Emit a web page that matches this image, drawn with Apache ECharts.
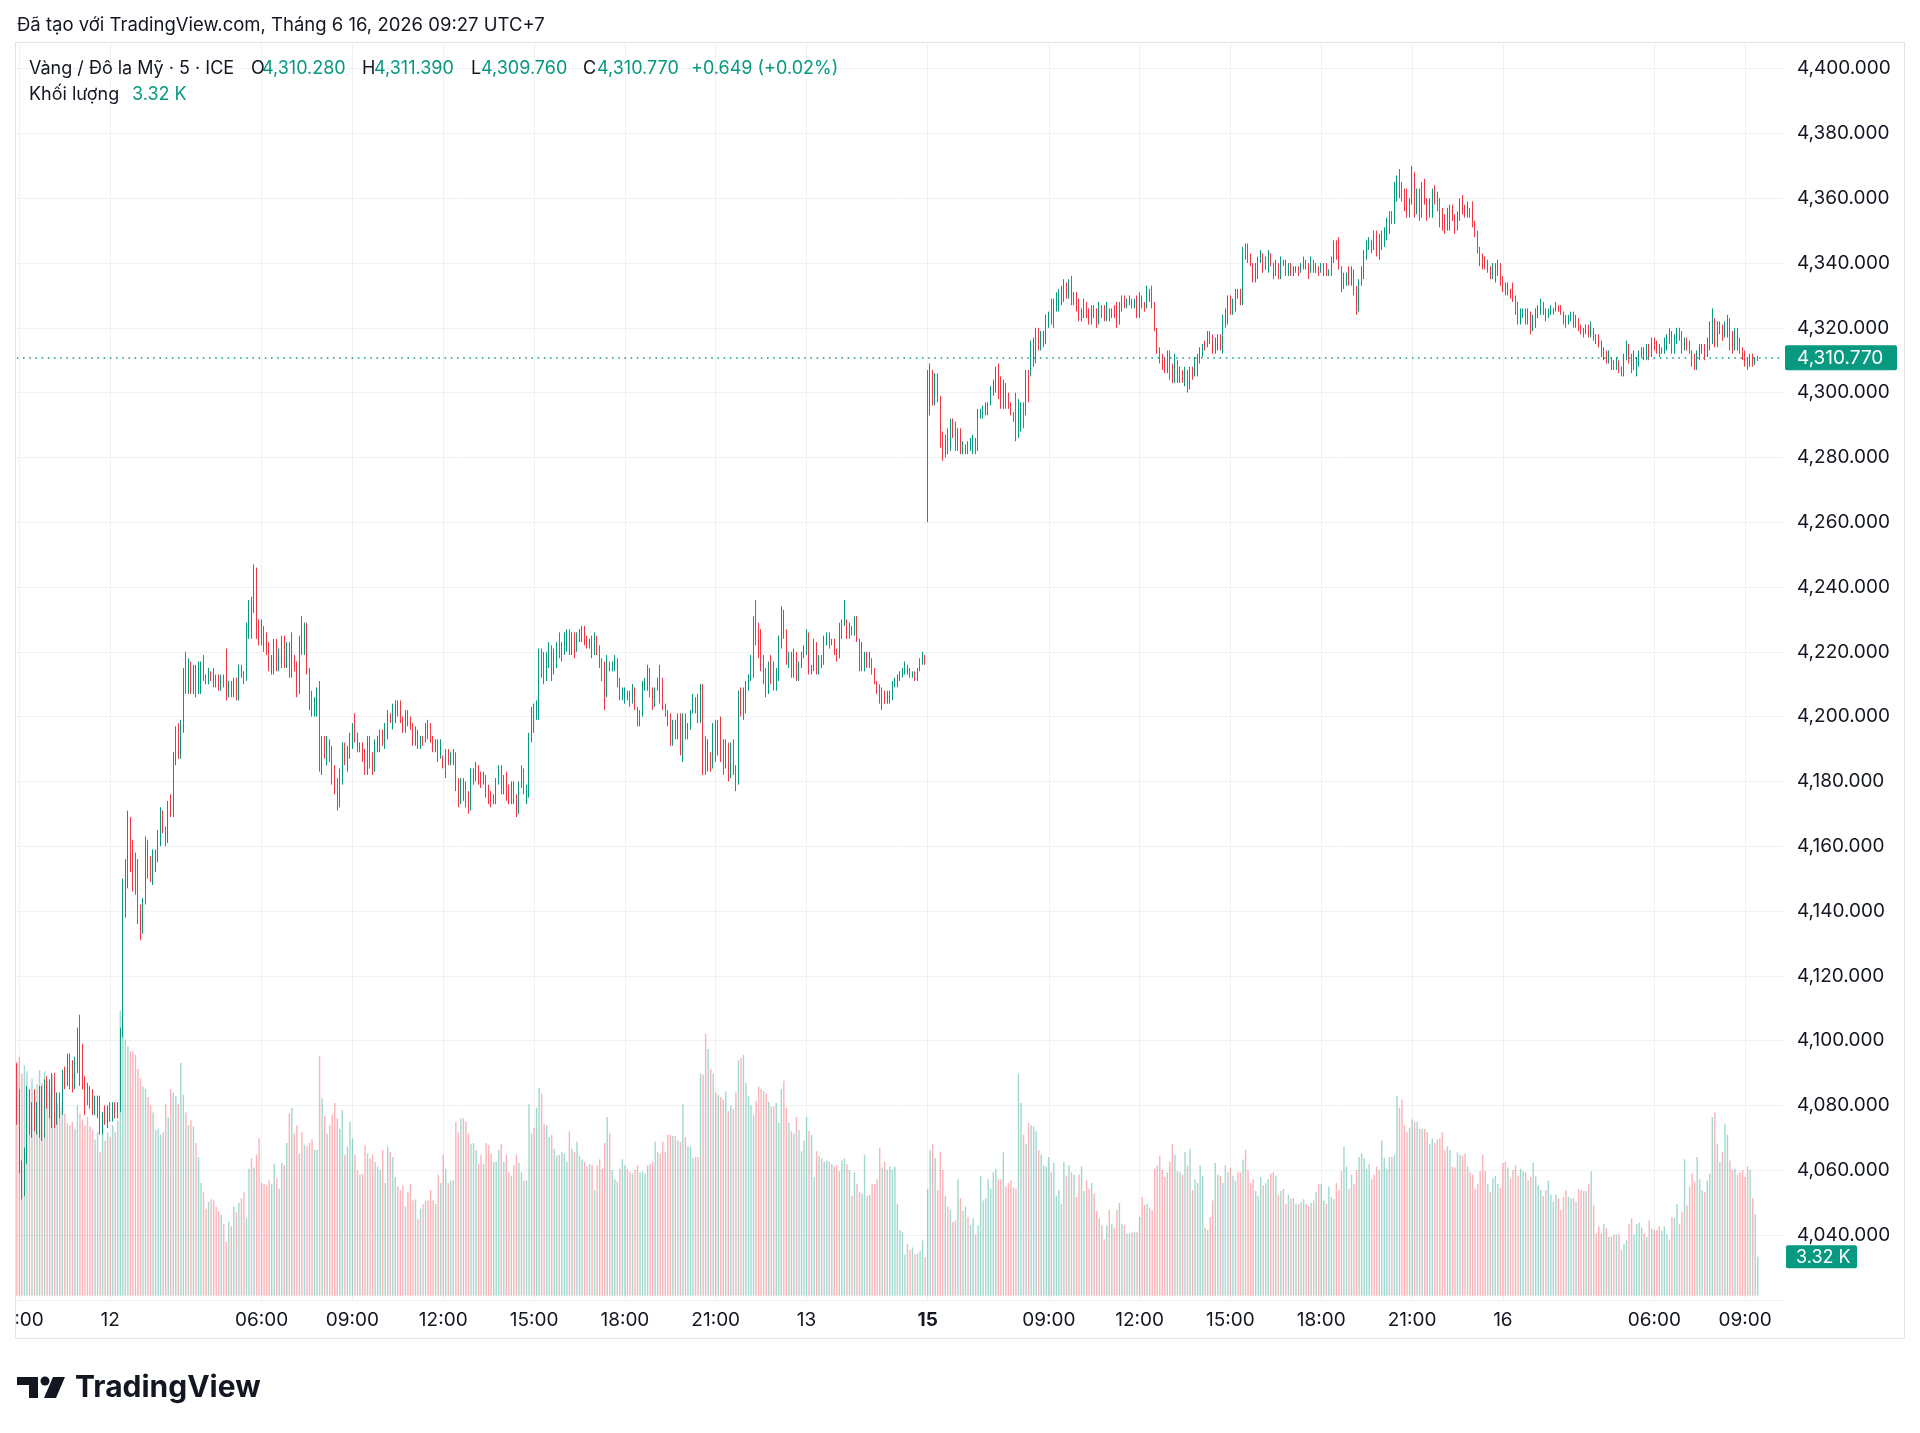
<!DOCTYPE html>
<html><head><meta charset="utf-8">
<script src="https://cdn.jsdelivr.net/npm/echarts@6/dist/echarts.min.js"></script>
<style>html,body{margin:0;padding:0;background:#fff}#c{width:1920px;height:1433px}</style>
</head><body><div id="c"></div>
<script>
// ---- DATA (5-minute bars) ----
// each candle: [open, high, low, close]
const ohlc = [
[4091,4093,4074,4075],[4075,4085,4059,4061],[4061,4063,4051,4053],[4053,4067,4052,4066],[4066,4086,4062,4084],[4084,4085,4071,4073],[4073,4081,4070,4080],[4080,4085,4072,4073],[4073,4081,4071,4078],[4078,4086,4070,4085],
[4085,4086,4069,4071],[4071,4088,4070,4087],[4087,4089,4079,4082],[4082,4088,4076,4078],[4078,4090,4073,4089],[4089,4090,4073,4075],[4075,4084,4074,4080],[4080,4084,4076,4078],[4078,4091,4077,4090],[4090,4092,4085,4087],
[4087,4096,4086,4095],[4095,4096,4085,4087],[4087,4094,4084,4086],[4086,4095,4085,4094],[4094,4104,4090,4103],[4103,4108,4086,4088],[4088,4099,4085,4087],[4087,4089,4077,4086],[4086,4087,4080,4081],[4081,4086,4079,4080],
[4080,4085,4077,4078],[4078,4083,4077,4081],[4081,4083,4076,4082],[4082,4083,4071,4073],[4073,4078,4071,4077],[4077,4080,4074,4075],[4075,4080,4073,4079],[4079,4081,4075,4076],[4076,4081,4075,4080],[4080,4081,4076,4077],
[4077,4081,4076,4079],[4079,4104,4078,4102],[4102,4150,4101,4148],[4148,4156,4138,4154],[4154,4171,4147,4168],[4168,4169,4152,4154],[4154,4162,4146,4148],[4148,4158,4145,4147],[4147,4156,4136,4138],[4138,4142,4131,4134],
[4134,4144,4133,4143],[4143,4163,4142,4161],[4161,4162,4150,4152],[4152,4157,4149,4150],[4150,4159,4148,4157],[4157,4159,4152,4158],[4158,4165,4155,4164],[4164,4172,4160,4170],[4170,4171,4164,4165],[4165,4166,4160,4162],
[4162,4174,4161,4173],[4173,4176,4169,4170],[4170,4189,4169,4187],[4187,4197,4185,4195],[4195,4198,4187,4188],[4188,4199,4187,4197],[4197,4215,4195,4213],[4213,4220,4207,4209],[4209,4218,4207,4216],[4216,4217,4207,4210],
[4210,4216,4207,4214],[4214,4216,4206,4208],[4208,4217,4207,4209],[4209,4217,4207,4215],[4215,4219,4211,4212],[4212,4213,4210,4211],[4211,4215,4210,4213],[4213,4214,4211,4212],[4212,4215,4209,4211],[4211,4213,4209,4210],
[4210,4213,4208,4209],[4209,4213,4208,4212],[4212,4213,4209,4211],[4211,4221,4205,4207],[4207,4211,4206,4210],[4210,4211,4206,4208],[4208,4212,4206,4211],[4211,4212,4205,4206],[4206,4216,4205,4215],[4215,4216,4212,4213],
[4213,4214,4210,4212],[4212,4229,4211,4227],[4227,4236,4224,4235],[4235,4237,4224,4233],[4233,4247,4232,4245],[4245,4246,4224,4226],[4226,4230,4222,4224],[4224,4230,4222,4223],[4223,4228,4220,4221],[4221,4226,4219,4220],
[4220,4223,4214,4215],[4215,4219,4213,4218],[4218,4224,4213,4223],[4223,4224,4214,4216],[4216,4221,4214,4220],[4220,4225,4215,4224],[4224,4225,4215,4216],[4216,4223,4215,4222],[4222,4223,4212,4213],[4213,4226,4212,4218],
[4218,4219,4214,4215],[4215,4217,4206,4207],[4207,4225,4207,4224],[4224,4231,4219,4221],[4221,4229,4219,4228],[4228,4229,4213,4214],[4214,4215,4202,4203],[4203,4208,4200,4201],[4201,4206,4200,4202],[4202,4209,4200,4208],
[4208,4211,4183,4184],[4184,4194,4182,4193],[4193,4194,4187,4188],[4188,4194,4185,4193],[4193,4193,4186,4190],[4190,4191,4179,4180],[4180,4185,4176,4178],[4178,4181,4171,4173],[4173,4184,4172,4183],[4183,4192,4179,4191],
[4191,4192,4185,4186],[4186,4191,4183,4190],[4190,4195,4187,4194],[4194,4198,4190,4197],[4197,4201,4192,4193],[4193,4195,4189,4190],[4190,4192,4189,4191],[4191,4192,4186,4187],[4187,4190,4182,4183],[4183,4194,4182,4193],
[4193,4194,4184,4185],[4185,4189,4182,4183],[4183,4193,4183,4192],[4192,4194,4189,4193],[4193,4196,4189,4195],[4195,4196,4191,4194],[4194,4198,4190,4197],[4197,4202,4193,4201],[4201,4201,4198,4199],[4199,4204,4196,4203],
[4203,4205,4198,4204],[4204,4205,4200,4201],[4201,4205,4198,4199],[4199,4200,4195,4196],[4196,4202,4195,4201],[4201,4202,4197,4198],[4198,4200,4196,4197],[4197,4198,4191,4192],[4192,4197,4191,4193],[4193,4196,4190,4191],
[4191,4194,4190,4193],[4193,4194,4191,4192],[4192,4198,4192,4197],[4197,4199,4193,4194],[4194,4198,4192,4193],[4193,4194,4189,4190],[4190,4193,4189,4192],[4192,4193,4186,4187],[4187,4193,4187,4188],[4188,4188,4184,4185],
[4185,4190,4181,4189],[4189,4190,4185,4186],[4186,4189,4185,4188],[4188,4190,4185,4189],[4189,4189,4177,4178],[4178,4181,4172,4173],[4173,4181,4173,4180],[4180,4181,4174,4175],[4175,4180,4172,4174],[4174,4177,4170,4171],
[4171,4184,4171,4183],[4183,4184,4179,4184],[4184,4186,4180,4185],[4185,4185,4179,4180],[4180,4183,4178,4179],[4179,4183,4179,4182],[4182,4182,4175,4176],[4176,4179,4173,4174],[4174,4177,4172,4173],[4173,4176,4173,4174],
[4174,4181,4173,4180],[4180,4185,4179,4184],[4184,4185,4176,4177],[4177,4182,4176,4181],[4181,4183,4174,4175],[4175,4179,4173,4174],[4174,4180,4173,4179],[4179,4180,4173,4174],[4174,4176,4169,4171],[4171,4180,4170,4179],
[4179,4185,4178,4183],[4183,4184,4176,4177],[4177,4179,4173,4178],[4178,4195,4175,4194],[4194,4203,4192,4202],[4202,4204,4195,4200],[4200,4205,4199,4204],[4204,4221,4199,4219],[4219,4221,4212,4213],[4213,4220,4210,4212],
[4212,4220,4211,4219],[4219,4223,4215,4222],[4222,4222,4211,4213],[4213,4221,4213,4220],[4220,4223,4215,4222],[4222,4226,4218,4219],[4219,4223,4217,4222],[4222,4226,4219,4225],[4225,4227,4220,4226],[4226,4227,4219,4220],
[4220,4226,4219,4221],[4221,4226,4218,4220],[4220,4226,4220,4225],[4225,4227,4223,4227],[4227,4228,4223,4228],[4228,4228,4222,4224],[4224,4225,4221,4222],[4222,4224,4221,4223],[4223,4225,4218,4219],[4219,4226,4219,4225],
[4225,4225,4219,4220],[4220,4222,4215,4216],[4216,4218,4211,4212],[4212,4217,4202,4206],[4206,4219,4206,4217],[4217,4217,4214,4215],[4215,4217,4214,4216],[4216,4219,4214,4218],[4218,4218,4209,4210],[4210,4212,4205,4206],
[4206,4209,4205,4207],[4207,4209,4204,4208],[4208,4208,4205,4206],[4206,4208,4203,4204],[4204,4210,4204,4209],[4209,4209,4202,4203],[4203,4203,4197,4198],[4198,4202,4197,4201],[4201,4211,4200,4210],[4210,4212,4208,4211],
[4211,4216,4208,4215],[4215,4215,4206,4207],[4207,4209,4202,4203],[4203,4209,4203,4208],[4208,4212,4208,4211],[4211,4216,4204,4205],[4205,4212,4202,4203],[4203,4204,4200,4201],[4201,4202,4197,4198],[4198,4201,4191,4193],
[4193,4199,4191,4198],[4198,4199,4193,4194],[4194,4201,4193,4200],[4200,4201,4188,4189],[4189,4201,4186,4200],[4200,4201,4193,4194],[4194,4198,4193,4197],[4197,4202,4196,4201],[4201,4207,4201,4206],[4206,4206,4201,4202],
[4202,4207,4198,4199],[4199,4210,4198,4209],[4209,4210,4182,4184],[4184,4194,4182,4183],[4183,4193,4183,4186],[4186,4189,4183,4184],[4184,4198,4184,4197],[4197,4199,4186,4189],[4189,4199,4188,4198],[4198,4200,4186,4187],
[4187,4193,4182,4184],[4184,4193,4184,4192],[4192,4192,4180,4181],[4181,4192,4181,4190],[4190,4193,4182,4183],[4183,4185,4177,4179],[4179,4208,4179,4206],[4206,4209,4200,4201],[4201,4209,4199,4202],[4202,4211,4201,4210],
[4210,4213,4208,4212],[4212,4219,4211,4218],[4218,4231,4212,4229],[4229,4236,4222,4224],[4224,4229,4218,4219],[4219,4227,4214,4216],[4216,4219,4210,4211],[4211,4215,4206,4208],[4208,4217,4207,4216],[4216,4219,4210,4212],
[4212,4217,4208,4209],[4209,4215,4208,4214],[4214,4225,4211,4224],[4224,4234,4221,4232],[4232,4233,4224,4226],[4226,4227,4216,4217],[4217,4220,4215,4219],[4219,4220,4212,4213],[4213,4221,4212,4220],[4220,4220,4211,4212],
[4212,4217,4211,4216],[4216,4220,4215,4219],[4219,4222,4218,4221],[4221,4227,4219,4226],[4226,4226,4213,4214],[4214,4216,4213,4215],[4215,4224,4214,4223],[4223,4223,4213,4214],[4214,4219,4213,4218],[4218,4219,4215,4217],
[4217,4225,4216,4224],[4224,4226,4222,4225],[4225,4226,4221,4223],[4223,4224,4222,4223],[4223,4224,4219,4220],[4220,4221,4217,4218],[4218,4229,4218,4228],[4228,4230,4224,4229],[4229,4236,4228,4229],[4229,4230,4224,4225],
[4225,4229,4224,4228],[4228,4228,4225,4226],[4226,4231,4225,4230],[4230,4231,4223,4224],[4224,4224,4214,4215],[4215,4223,4214,4216],[4216,4220,4214,4219],[4219,4220,4215,4216],[4216,4220,4215,4216],[4216,4218,4213,4214],
[4214,4215,4210,4211],[4211,4211,4207,4208],[4208,4210,4204,4205],[4205,4209,4202,4208],[4208,4208,4204,4205],[4205,4208,4204,4206],[4206,4208,4204,4207],[4207,4211,4205,4210],[4210,4212,4209,4211],[4211,4213,4209,4212],
[4212,4214,4211,4213],[4213,4215,4212,4214],[4214,4217,4213,4216],[4216,4216,4213,4214],[4214,4215,4212,4213],[4213,4214,4212,4213],[4213,4214,4211,4212],[4212,4215,4211,4215],[4215,4218,4214,4217],[4217,4220,4216,4219],
[4219,4219,4216,4218],[4262,4307,4260,4300],[4300,4309,4293,4307],[4307,4307,4296,4297],[4297,4306,4296,4305],[4305,4306,4297,4298],[4298,4299,4283,4284],[4284,4288,4279,4281],[4281,4287,4280,4286],[4286,4289,4281,4282],
[4282,4292,4282,4291],[4291,4292,4286,4287],[4287,4291,4282,4283],[4283,4289,4282,4288],[4288,4289,4281,4282],[4282,4285,4281,4283],[4283,4284,4281,4284],[4284,4285,4281,4282],[4282,4286,4282,4285],[4285,4287,4281,4286],
[4286,4286,4281,4282],[4282,4295,4282,4294],[4294,4295,4292,4294],[4294,4296,4292,4295],[4295,4297,4293,4296],[4296,4297,4293,4297],[4297,4302,4296,4301],[4301,4304,4299,4303],[4303,4308,4300,4307],[4307,4309,4298,4299],
[4299,4305,4295,4296],[4296,4304,4295,4303],[4303,4303,4295,4297],[4297,4300,4295,4296],[4296,4297,4293,4294],[4294,4294,4291,4292],[4292,4300,4285,4287],[4287,4298,4286,4289],[4289,4297,4288,4296],[4296,4297,4289,4295],
[4295,4307,4293,4306],[4306,4307,4297,4305],[4305,4316,4305,4315],[4315,4317,4308,4316],[4316,4320,4309,4319],[4319,4320,4313,4314],[4314,4319,4313,4315],[4315,4319,4314,4318],[4318,4324,4315,4323],[4323,4325,4320,4324],
[4324,4329,4321,4322],[4322,4329,4320,4328],[4328,4331,4325,4330],[4330,4332,4325,4331],[4331,4333,4327,4332],[4332,4335,4328,4334],[4334,4334,4329,4330],[4330,4335,4329,4334],[4334,4336,4327,4328],[4328,4331,4327,4329],
[4329,4331,4325,4326],[4326,4329,4322,4323],[4323,4326,4322,4324],[4324,4329,4323,4328],[4328,4328,4323,4324],[4324,4326,4321,4322],[4322,4327,4321,4326],[4326,4327,4323,4324],[4324,4326,4320,4321],[4321,4328,4321,4327],
[4327,4327,4323,4324],[4324,4327,4322,4323],[4323,4328,4322,4325],[4325,4326,4322,4323],[4323,4326,4323,4326],[4326,4327,4323,4324],[4324,4328,4320,4321],[4321,4328,4321,4327],[4327,4330,4325,4329],[4329,4330,4326,4327],
[4327,4329,4326,4328],[4328,4330,4327,4329],[4329,4329,4326,4327],[4327,4329,4326,4328],[4328,4330,4323,4324],[4324,4331,4323,4330],[4330,4330,4326,4327],[4327,4328,4325,4326],[4326,4333,4326,4332],[4332,4332,4328,4331],
[4331,4333,4326,4327],[4327,4328,4319,4320],[4320,4320,4312,4313],[4313,4314,4309,4311],[4311,4312,4307,4308],[4308,4311,4306,4307],[4307,4313,4306,4312],[4312,4313,4304,4305],[4305,4309,4303,4304],[4304,4312,4303,4310],
[4310,4310,4303,4304],[4304,4308,4303,4307],[4307,4307,4303,4304],[4304,4308,4302,4307],[4307,4307,4300,4302],[4302,4308,4301,4307],[4307,4308,4304,4305],[4305,4311,4305,4310],[4310,4312,4305,4311],[4311,4314,4309,4313],
[4313,4315,4311,4315],[4315,4316,4313,4314],[4314,4319,4314,4318],[4318,4319,4315,4317],[4317,4318,4312,4313],[4313,4317,4312,4314],[4314,4318,4313,4317],[4317,4318,4313,4314],[4314,4324,4312,4323],[4323,4326,4320,4325],
[4325,4330,4321,4329],[4329,4330,4324,4325],[4325,4329,4324,4326],[4326,4332,4325,4331],[4331,4332,4329,4330],[4330,4332,4327,4328],[4328,4345,4327,4344],[4344,4346,4341,4342],[4342,4346,4340,4341],[4341,4343,4339,4340],
[4340,4340,4334,4335],[4335,4340,4334,4339],[4339,4342,4335,4341],[4341,4344,4340,4343],[4343,4343,4337,4338],[4338,4342,4338,4341],[4341,4344,4337,4343],[4343,4343,4339,4340],[4340,4340,4335,4336],[4336,4341,4336,4340],
[4340,4340,4335,4336],[4336,4342,4335,4341],[4341,4341,4339,4340],[4340,4341,4336,4337],[4337,4340,4336,4339],[4339,4340,4336,4337],[4337,4339,4336,4338],[4338,4339,4337,4339],[4339,4339,4336,4337],[4337,4340,4337,4339],
[4339,4342,4338,4341],[4341,4341,4338,4339],[4339,4340,4335,4338],[4338,4342,4337,4341],[4341,4341,4337,4338],[4338,4340,4337,4339],[4339,4339,4336,4337],[4337,4340,4337,4339],[4339,4340,4336,4340],[4340,4340,4336,4337],
[4337,4338,4336,4337],[4337,4342,4336,4341],[4341,4347,4340,4346],[4346,4347,4341,4345],[4345,4348,4338,4339],[4339,4339,4331,4333],[4333,4337,4332,4334],[4334,4337,4333,4336],[4336,4339,4333,4334],[4334,4339,4333,4337],
[4337,4338,4330,4331],[4331,4333,4324,4326],[4326,4335,4325,4334],[4334,4339,4333,4338],[4338,4344,4335,4343],[4343,4347,4341,4346],[4346,4348,4344,4347],[4347,4347,4343,4346],[4346,4350,4344,4345],[4345,4350,4342,4343],
[4343,4349,4341,4348],[4348,4350,4344,4349],[4349,4351,4345,4350],[4350,4354,4347,4353],[4353,4356,4349,4355],[4355,4356,4352,4353],[4353,4365,4352,4364],[4364,4367,4359,4366],[4366,4369,4360,4361],[4361,4365,4359,4360],
[4360,4363,4356,4357],[4357,4363,4354,4355],[4355,4360,4354,4359],[4359,4370,4358,4368],[4368,4368,4354,4356],[4356,4363,4355,4362],[4362,4363,4353,4355],[4355,4365,4354,4364],[4364,4366,4358,4359],[4359,4360,4353,4354],
[4354,4360,4354,4355],[4355,4363,4354,4362],[4362,4364,4358,4359],[4359,4362,4356,4357],[4357,4360,4351,4352],[4352,4357,4350,4351],[4351,4355,4349,4350],[4350,4357,4350,4356],[4356,4358,4350,4357],[4357,4358,4353,4354],
[4354,4355,4349,4350],[4350,4356,4350,4355],[4355,4360,4353,4359],[4359,4361,4355,4356],[4356,4358,4354,4355],[4355,4359,4354,4356],[4356,4357,4354,4355],[4355,4359,4351,4352],[4352,4353,4348,4349],[4349,4350,4343,4344],
[4344,4345,4339,4340],[4340,4343,4338,4339],[4339,4342,4338,4338],[4338,4341,4337,4338],[4338,4339,4335,4336],[4336,4340,4335,4339],[4339,4340,4334,4340],[4340,4341,4336,4340],[4340,4340,4333,4334],[4334,4336,4331,4332],
[4332,4334,4330,4331],[4331,4334,4330,4331],[4331,4332,4329,4330],[4330,4334,4328,4329],[4329,4330,4324,4325],[4325,4328,4321,4322],[4322,4326,4321,4325],[4325,4326,4323,4325],[4325,4326,4321,4322],[4322,4326,4321,4325],
[4325,4325,4318,4319],[4319,4324,4319,4320],[4320,4326,4320,4325],[4325,4327,4323,4326],[4326,4329,4324,4328],[4328,4328,4324,4325],[4325,4326,4322,4323],[4323,4326,4323,4325],[4325,4327,4324,4325],[4325,4326,4324,4326],
[4326,4328,4325,4327],[4327,4327,4325,4326],[4326,4327,4324,4325],[4325,4325,4321,4322],[4322,4324,4320,4321],[4321,4324,4321,4323],[4323,4325,4322,4324],[4324,4325,4320,4321],[4321,4324,4320,4323],[4323,4323,4319,4320],
[4320,4321,4318,4319],[4319,4320,4317,4318],[4318,4321,4318,4320],[4320,4321,4317,4318],[4318,4322,4317,4319],[4319,4320,4316,4317],[4317,4318,4315,4316],[4316,4318,4314,4315],[4315,4316,4311,4312],[4312,4314,4310,4313],
[4313,4313,4309,4310],[4310,4313,4309,4310],[4310,4311,4307,4308],[4308,4310,4307,4307],[4307,4311,4307,4310],[4310,4310,4306,4307],[4307,4308,4305,4306],[4306,4312,4305,4311],[4311,4316,4310,4315],[4315,4315,4309,4310],
[4310,4312,4306,4307],[4307,4313,4307,4309],[4309,4311,4305,4310],[4310,4313,4308,4312],[4312,4314,4311,4313],[4313,4314,4310,4311],[4311,4315,4310,4314],[4314,4315,4310,4311],[4311,4317,4311,4316],[4316,4317,4313,4314],
[4314,4316,4312,4313],[4313,4315,4311,4312],[4312,4314,4312,4313],[4313,4317,4312,4316],[4316,4318,4313,4317],[4317,4320,4315,4316],[4316,4319,4312,4313],[4313,4318,4312,4317],[4317,4320,4315,4319],[4319,4320,4316,4317],
[4317,4319,4312,4313],[4313,4317,4313,4316],[4316,4317,4313,4314],[4314,4316,4312,4313],[4313,4313,4308,4309],[4309,4312,4307,4308],[4308,4313,4307,4312],[4312,4315,4310,4314],[4314,4315,4312,4315],[4315,4315,4310,4312],
[4312,4317,4311,4316],[4316,4322,4313,4321],[4321,4326,4315,4323],[4323,4323,4314,4315],[4315,4322,4314,4319],[4319,4322,4318,4321],[4321,4321,4316,4317],[4317,4322,4317,4321],[4321,4324,4317,4323],[4323,4323,4313,4314],
[4314,4319,4312,4313],[4313,4320,4313,4319],[4319,4320,4313,4314],[4314,4317,4312,4313],[4313,4314,4310,4311],[4311,4313,4308,4310],[4310,4311,4307,4308],[4308,4312,4308,4311],[4311,4312,4308,4309],[4309,4311,4308.5,4310.121],
[4310.28,4311.39,4309.76,4310.77]
];
// volume per bar, in thousands
const volumesK = [
19.9,20.3,18.9,19.6,19.1,17.5,18.5,17.2,18.0,19.2,18.1,19.1,18.3,17.5,18.8,15.6,16.4,16.0,
16.5,15.5,14.7,14.5,14.8,14.2,16.2,15.5,15.0,14.5,15.2,14.4,14.1,13.3,13.9,12.2,13.8,13.2,
13.9,13.5,14.5,13.9,14.9,24.3,23.2,21.8,21.2,20.8,20.8,20.5,19.3,18.5,17.8,17.6,16.9,16.2,
15.6,14.1,14.2,13.7,13.9,16.3,15.2,17.6,17.3,17.0,16.3,19.8,17.1,15.6,14.5,14.9,14.4,13.0,
11.8,9.6,8.8,7.4,8.0,8.2,8.1,7.6,7.2,6.9,6.1,4.6,6.3,5.9,7.6,7.1,7.9,8.3,
8.8,6.6,10.8,11.7,10.9,12.0,13.4,9.6,9.5,9.4,9.8,9.5,11.2,10.0,9.1,11.3,11.1,13.0,
15.5,16.0,13.8,14.5,12.1,13.9,12.8,12.7,13.0,13.3,12.4,12.4,20.4,16.8,15.3,13.8,14.5,15.4,
16.4,15.1,14.2,15.8,12.0,12.7,14.8,13.4,12.0,10.7,10.3,10.4,12.8,12.1,11.7,12.0,11.4,11.0,
10.7,12.4,9.6,12.7,12.2,11.8,10.1,9.3,9.0,9.4,7.6,8.8,9.5,8.1,8.2,6.5,7.4,7.8,
8.1,8.1,9.0,8.1,7.8,10.3,9.6,12.0,10.8,9.6,9.8,9.8,14.8,13.9,15.1,15.1,14.8,13.8,
12.9,13.0,12.4,11.2,12.0,11.2,13.0,12.8,12.1,11.4,11.4,12.4,12.9,11.4,12.0,10.5,10.2,11.1,
12.0,11.3,10.5,9.8,9.8,16.3,13.8,14.3,16.0,17.7,17.2,14.6,14.5,13.5,13.7,12.5,11.9,12.0,
12.2,12.1,11.4,14.0,12.5,12.2,13.1,11.9,11.6,11.4,11.0,11.2,11.1,9.0,11.1,11.6,10.8,13.0,
15.2,13.8,10.7,9.9,9.7,10.8,11.6,11.1,10.8,10.5,10.4,10.7,11.1,10.5,10.6,10.4,11.1,11.2,
11.4,13.1,12.2,12.1,13.1,12.2,13.7,13.7,13.6,13.6,13.2,13.1,16.3,13.5,12.7,12.7,11.7,11.8,
11.8,18.9,18.8,22.3,21.0,19.3,18.9,17.3,17.1,16.9,16.7,17.4,15.7,16.2,15.9,17.3,20.0,20.2,
20.5,18.1,17.0,16.2,15.4,16.6,17.8,17.6,17.4,17.2,16.5,16.1,16.1,16.4,14.7,17.6,18.3,16.0,
14.7,14.0,13.8,15.2,14.1,12.3,13.2,15.2,14.0,13.7,10.1,12.3,11.9,11.7,11.4,11.5,11.4,11.2,
11.0,11.1,10.6,11.5,11.7,11.2,10.7,8.5,10.5,9.5,8.8,8.7,12.0,8.5,8.6,9.5,9.5,9.9,12.6,10.9,11.4,10.7,11.0,
10.7,11.0,7.8,5.6,5.4,3.5,4.4,3.9,4.1,3.5,3.6,3.8,4.7,3.3,9.1,12.4,12.9,11.7,9.0,12.2,
10.7,8.5,7.6,7.3,6.3,6.4,9.9,8.3,7.2,7.6,6.7,6.0,6.6,5.2,6.0,10.2,8.1,8.3,9.9,9.1,
10.5,10.8,9.9,9.9,12.2,9.3,9.6,9.8,9.2,9.1,18.9,16.4,13.7,12.9,14.7,14.5,14.4,14.0,12.4,12.0,
11.1,11.0,11.8,10.5,11.3,8.5,9.0,7.8,11.4,10.2,11.1,10.5,10.3,8.4,10.3,11.0,8.9,9.8,9.1,9.6,
8.7,7.2,6.6,6.0,4.8,6.0,7.3,6.1,5.8,7.3,7.9,6.1,6.0,5.3,5.3,5.4,5.4,5.4,6.7,8.4,
7.7,7.8,7.5,7.3,10.8,11.1,11.9,10.7,10.1,10.5,11.4,12.9,12.0,10.6,10.5,10.3,12.2,11.1,12.5,9.0,
9.9,9.6,11.1,10.2,5.8,5.6,6.7,8.1,11.3,10.3,10.2,9.6,11.1,10.5,10.9,10.2,9.8,10.5,10.5,11.6,
12.4,10.7,9.6,9.9,8.9,8.5,10.1,9.4,9.6,9.9,10.4,10.5,10.2,8.6,8.9,9.1,7.8,8.6,8.3,8.3,
7.8,7.8,8.0,8.2,7.8,7.6,7.9,8.1,8.8,9.5,9.5,8.1,7.8,9.3,8.4,8.2,9.6,9.0,10.6,12.7,
11.0,9.1,10.3,9.5,10.7,11.8,12.1,11.7,10.8,11.2,9.9,10.3,11.0,10.7,13.2,11.7,10.8,11.8,11.8,12.0,
17.0,16.0,16.7,14.5,13.9,14.3,15.0,14.8,14.8,14.2,14.2,14.2,13.9,12.9,13.4,13.0,13.3,13.4,13.9,12.4,
12.7,12.4,11.0,10.9,12.2,12.0,11.9,12.1,11.0,10.5,10.3,9.1,9.5,10.6,12.0,10.6,9.5,8.8,10.0,10.2,
9.5,9.2,11.3,11.4,10.9,10.0,10.7,11.1,10.2,10.8,10.6,10.5,9.8,10.1,11.3,10.2,9.4,9.0,8.5,9.0,
9.8,8.6,8.0,8.6,8.3,7.3,8.4,9.0,8.4,8.3,8.3,8.0,9.1,9.0,8.9,8.9,9.5,10.6,7.7,5.3,
5.9,5.3,6.1,5.8,5.0,5.0,5.2,5.2,5.2,3.9,4.4,4.7,6.1,6.6,5.2,6.1,6.2,5.8,5.3,5.0,
6.4,5.7,5.6,5.6,5.9,5.5,5.9,5.2,4.8,6.7,6.6,7.8,6.1,7.1,11.6,7.7,9.3,10.4,9.7,11.8,
9.9,9.0,8.8,9.8,10.4,15.2,15.6,12.9,11.4,12.2,14.6,13.7,11.5,10.7,10.8,10.3,10.5,10.7,10.1,11.0,
10.7,8.3,6.9,3.32
];
// trading sessions (UTC+7) that make up the category axis; the last one includes 10 empty future slots
const sessions = [['2026-06-11T20:55','2026-06-12T03:55'],['2026-06-12T05:00','2026-06-13T03:55'],
                  ['2026-06-15T05:00','2026-06-16T03:55'],['2026-06-16T05:00','2026-06-16T10:15']];
// time-axis tick labels: [category index, label]
const timeTicks = [[1,'21:00'],[37,'12'],[97,'06:00'],[133,'09:00'],[169,'12:00'],[205,'15:00'],[241,'18:00'],[277,'21:00'],
  [313,'13'],[361,'15'],[409,'09:00'],[445,'12:00'],[481,'15:00'],[517,'18:00'],[553,'21:00'],[589,'16'],[649,'06:00'],[685,'09:00']];
const boldTicks = [361];
const priceMin = 4020, priceMax = 4408, priceStep = 20;
const volMaxK = 25.53;

// ---- BUILD ----
const categories = [];
sessions.forEach(([a,b]) => {
  for (let t = Date.parse(a+':00Z'), e = Date.parse(b+':00Z'); t <= e; t += 300000)
    categories.push(new Date(t).toISOString().slice(0,16).replace('T',' '));
});
const tickMap = {}; timeTicks.forEach(([i,l]) => tickMap[i] = l);
const UP = '#089981', DOWN = '#F23645', TXT = '#131722', GRID = '#F0F1F3';
const FONT = 'Inter, "Noto Sans", sans-serif';
const candleData = ohlc.map(d => [d[0], d[3], d[2], d[1]]);
const volData = volumesK.map((v,i) => ({value: v, itemStyle: {color: ohlc[i][3] >= ohlc[i][0] ? 'rgba(8,153,129,0.38)' : 'rgba(242,54,69,0.38)'}}));
const fmtP = v => v.toLocaleString('en-US', {minimumFractionDigits:3, maximumFractionDigits:3});
const last = ohlc[ohlc.length-1], prevClose = ohlc[ohlc.length-2][3];
const chg = last[3] - prevClose, pct = chg / prevClose * 100;

const X0 = 16.85, STEP = 2.523, W = STEP * (categories.length - 1);
const tickShown = (i) => tickMap[i] !== undefined;

const chart = echarts.init(document.getElementById('c'), null, {renderer: 'canvas'});
chart.setOption({
  animation: false,
  backgroundColor: '#ffffff',
  grid: [
    {left: X0, width: W, top: 42.7, height: 1257.1, containLabel: false, outerBoundsMode: 'none'},
    {left: X0, width: W, top: 995.7, height: 300, containLabel: false, outerBoundsMode: 'none'}
  ],
  xAxis: [
    {type: 'category', data: categories, boundaryGap: false, gridIndex: 0,
     axisLine: {show: false}, axisTick: {show: false},
     axisLabel: {interval: (i) => tickShown(i), margin: 11, color: TXT, fontSize: 19, fontFamily: FONT,
                 hideOverlap: false,
                 formatter: (v, i) => boldTicks.includes(i) ? '{b|' + tickMap[i] + '}' : (tickMap[i] || ''),
                 rich: {b: {fontWeight: 700, fontSize: 19, fontFamily: FONT, color: TXT}}},
     splitLine: {show: true, interval: (i) => tickShown(i), lineStyle: {color: GRID, width: 1}}},
    {type: 'category', data: categories, boundaryGap: false, gridIndex: 1, show: false}
  ],
  yAxis: [
    {type: 'value', gridIndex: 0, position: 'right', min: priceMin, max: priceMax, interval: priceStep,
     axisLine: {show: false}, axisTick: {show: false},
     axisLabel: {margin: 14, color: TXT, fontSize: 19, fontFamily: FONT,
                 formatter: v => (v < 4039 || v > 4401) ? '' : fmtP(v)},
     splitLine: {show: true, lineStyle: {color: GRID, width: 1}}},
    {type: 'value', gridIndex: 1, min: 0, max: volMaxK, show: false, splitLine: {show: false}}
  ],
  series: [
    {type: 'bar', xAxisIndex: 1, yAxisIndex: 1, data: volData, barWidth: 1.4, z: 1, silent: true},
    {type: 'candlestick', xAxisIndex: 0, yAxisIndex: 0, data: candleData, large: false, barWidth: 1.1, z: 3,
     itemStyle: {color: UP, color0: DOWN, borderColor: UP, borderColor0: DOWN, borderWidth: 1},
     markLine: {silent: true, symbol: ['none','none'], label: {show: false},
                lineStyle: {color: UP, width: 1.5, type: [1.5, 4.7]},
                data: [{yAxis: last[3]}]}}
  ]
});

const yPrice = chart.convertToPixel({yAxisIndex: 0}, last[3]);
const yVol = chart.convertToPixel({yAxisIndex: 1}, volumesK[volumesK.length-1]);
const txt = (x, y, text, fill, size, weight, align) => ({type: 'text', z: 50, x: 0, y: 0,
  style: {text, x, y, fill, font: (weight || 400) + ' ' + size + 'px ' + FONT,
          textAlign: align || 'left', align: align || 'left', textVerticalAlign: 'middle', verticalAlign: 'middle'}});
const els = [
  {type: 'rect', z: 45, shape: {x: 0, y: 1302, width: 16.3, height: 34}, style: {fill: '#ffffff'}},
  {type: 'rect', z: 46, shape: {x: 15.5, y: 42.5, width: 1889, height: 1296}, style: {fill: 'none', stroke: '#E0E3EB', lineWidth: 1}},
  txt(17, 25.5, 'Đã tạo với TradingView.com, Tháng 6 16, 2026 09:27 UTC+7', TXT, 18.5),
  txt(29, 68.5, 'Vàng / Đô la Mỹ · 5 · ICE', TXT, 18),
  txt(251, 68.5, 'O', TXT, 18), txt(262, 68.5, fmtP(last[0]), UP, 18),
  txt(362, 68.5, 'H', TXT, 18), txt(374, 68.5, fmtP(last[1]), UP, 18),
  txt(471, 68.5, 'L', TXT, 18), txt(481, 68.5, fmtP(last[2]), UP, 18),
  txt(583, 68.5, 'C', TXT, 18), txt(597, 68.5, fmtP(last[3]), UP, 18),
  txt(691, 68.5, (chg >= 0 ? '+' : '') + chg.toFixed(3) + ' (' + (pct >= 0 ? '+' : '') + pct.toFixed(2) + '%)', UP, 18),
  txt(29, 94.5, 'Khối lượng', TXT, 18), txt(132, 94.5, volumesK[volumesK.length-1].toFixed(2) + ' K', UP, 18),
  {type: 'rect', z: 50, shape: {x: 1785, y: yPrice - 12.5, width: 112, height: 25, r: 2}, style: {fill: UP}},
  txt(1797, yPrice + 0.5, fmtP(last[3]), '#ffffff', 19),
  {type: 'rect', z: 50, shape: {x: 1786, y: yVol - 11.5, width: 71, height: 23, r: 2}, style: {fill: UP}},
  txt(1796, yVol + 0.5, volumesK[volumesK.length-1].toFixed(2) + ' K', '#ffffff', 18),
  // TradingView logo mark
  {type: 'rect', z: 50, shape: {x: 17, y: 1377, width: 21, height: 8}, style: {fill: TXT}},
  {type: 'rect', z: 50, shape: {x: 29, y: 1377, width: 9, height: 21}, style: {fill: TXT}},
  {type: 'circle', z: 50, shape: {cx: 45, cy: 1381, r: 4.5}, style: {fill: TXT}},
  {type: 'polygon', z: 50, shape: {points: [[53,1377],[65,1377],[56,1398],[44,1398]]}, style: {fill: TXT}},
  txt(75, 1388, 'TradingView', TXT, 30, 700)
];
chart.setOption({graphic: {elements: els}});
</script>
</body></html>
